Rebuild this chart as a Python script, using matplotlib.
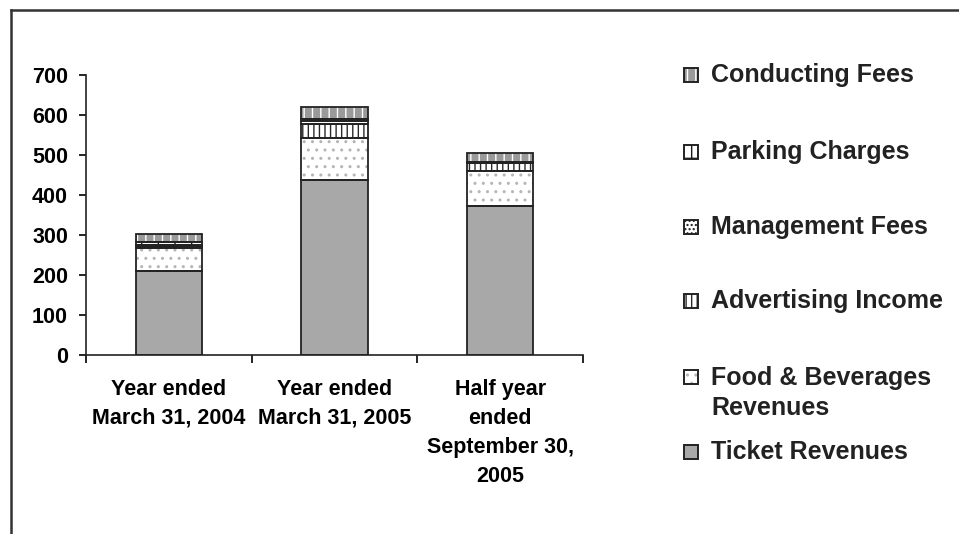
import matplotlib
matplotlib.use("Agg")
import matplotlib.pyplot as plt
from matplotlib.patches import Rectangle
from matplotlib.lines import Line2D

categories = ["Year ended\nMarch 31, 2004", "Year ended\nMarch 31, 2005",
              "Half year\nended\nSeptember 30,\n2005"]
ticket = [210, 438, 372]
food_bev = [57, 105, 88]
advertising = [3, 35, 20]
management = [5, 7, 1]
parking = [7, 5, 2]
conducting = [20, 30, 22]
yticks = [0, 100, 200, 300, 400, 500, 600, 700]

series = [
    ("Ticket Revenues", ticket, "#a8a8a8", None, "#a8a8a8"),
    ("Food & Beverages\nRevenues", food_bev, "white", "..", "#b5b5b5"),
    ("Advertising Income", advertising, "white", "|||", "#2a2a2a"),
    ("Management Fees", management, "white", "....", "#1a1a1a"),
    ("Parking Charges", parking, "white", "+", "#1a1a1a"),
    ("Conducting Fees", conducting, "#9a9a9a", "||", "white"),
]

plt.rcParams["font.family"] = ["Liberation Sans", "DejaVu Sans"]
plt.rcParams["font.weight"] = "bold"
plt.rcParams["hatch.linewidth"] = 1.0

W, H = 959, 534
fig = plt.figure(figsize=(W / 100, H / 100), dpi=100)
ax = fig.add_axes([86 / W, 1 - 355 / H, (583 - 86) / W, (355 - 75) / H])

x = list(range(len(categories)))
bottom = [0] * len(categories)
for name, vals, face, hatch, hcol in series:
    ax.bar(x, vals, 0.4, bottom=bottom, color=face, edgecolor=hcol,
           hatch=hatch, linewidth=0, zorder=2)
    ax.bar(x, vals, 0.4, bottom=bottom, fill=False, edgecolor="#222222",
           linewidth=1.3, zorder=3)
    bottom = [b + v for b, v in zip(bottom, vals)]

ax.set_xlim(-0.5, len(categories) - 0.5)
ax.set_ylim(0, 700)
ax.set_yticks(yticks)
ax.set_yticklabels([str(v) for v in yticks])
ax.set_xticks([i - 0.5 for i in range(len(categories) + 1)])
ax.set_xticklabels([])
ax.set_xticks(x, minor=True)
ax.set_xticklabels(categories, minor=True, linespacing=1.5)
ax.tick_params(axis="x", which="minor", length=0, pad=17, labelsize=15.5)
ax.tick_params(axis="x", which="major", length=6, width=1.2, direction="out")
ax.tick_params(axis="y", length=5, width=1.2, pad=8, labelsize=15.5)
for s in ["top", "right"]:
    ax.spines[s].set_visible(False)
for s in ["left", "bottom"]:
    ax.spines[s].set_linewidth(1.2)
    ax.spines[s].set_color("#222222")

# legend (drawn manually, reversed order)
leg_y = {"Conducting Fees": 75, "Parking Charges": 152, "Management Fees": 227,
         "Advertising Income": 301, "Food & Beverages\nRevenues": 377,
         "Ticket Revenues": 452}
for name, vals, face, hatch, hcol in series:
    yc = leg_y[name]
    sz = 14
    r = Rectangle((684 / W, 1 - (yc + sz / 2) / H), sz / W, sz / H,
                  transform=fig.transFigure, facecolor=face, edgecolor=hcol,
                  hatch=hatch, linewidth=0)
    fig.add_artist(r)
    r2 = Rectangle((684 / W, 1 - (yc + sz / 2) / H), sz / W, sz / H,
                   transform=fig.transFigure, fill=False, edgecolor="#222222",
                   linewidth=1.4)
    fig.add_artist(r2)
    if "\n" in name:
        fig.text(711 / W, 1 - (yc + 16) / H, name, va="center", ha="left",
                 fontsize=18, fontweight="bold", color="#222222", linespacing=1.28)
    else:
        fig.text(711 / W, 1 - yc / H, name, va="center", ha="left",
                 fontsize=18, fontweight="bold", color="#222222")

# outer frame lines
fig.add_artist(Line2D([11 / W, 11 / W], [0, 1 - 10 / H], transform=fig.transFigure,
                      color="#333333", linewidth=1.8))
fig.add_artist(Line2D([11 / W, 1], [1 - 10 / H, 1 - 10 / H], transform=fig.transFigure,
                      color="#333333", linewidth=1.8))

fig.savefig("out.png", dpi=100)
